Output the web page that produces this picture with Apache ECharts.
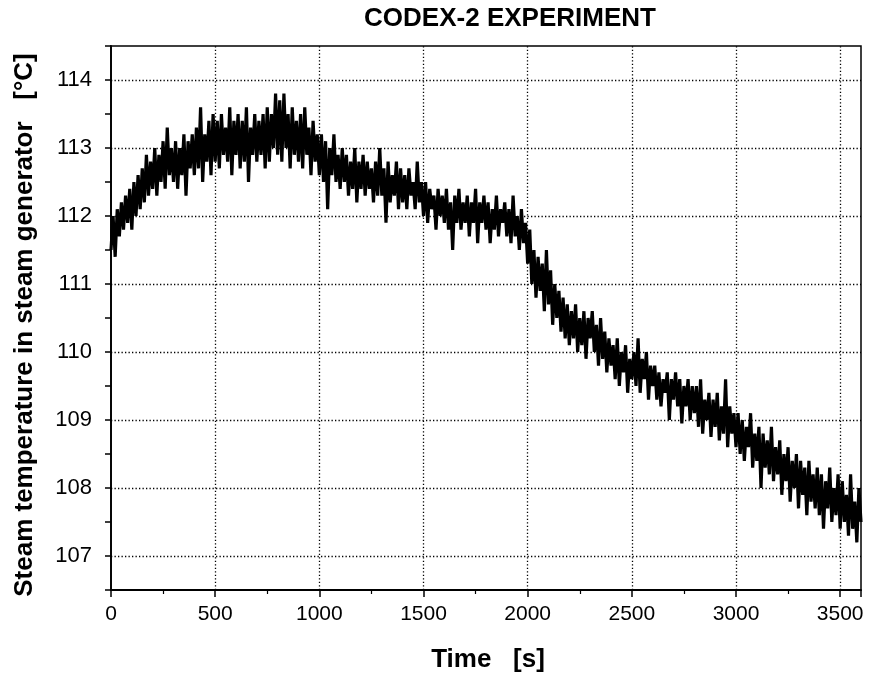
<!DOCTYPE html>
<html><head><meta charset="utf-8">
<script src="https://cdn.jsdelivr.net/npm/echarts@6/dist/echarts.min.js"></script>
<style>html,body{margin:0;padding:0;background:#fff}#c{width:870px;height:681px}</style>
</head><body><div id="c"></div>
<script>
const titleText = 'CODEX-2 EXPERIMENT';
const xName = 'Time   [s]';
const yName = 'Steam temperature in steam generator   [°C]';
const xTicks = [0, 500, 1000, 1500, 2000, 2500, 3000, 3500];
const yTicks = [107, 108, 109, 110, 111, 112, 113, 114];
const xRange = [0, 3600];
const yRange = [106.5, 114.5];
const sampleStep = 10; // seconds between samples
const temps = [
111.5,112.0,111.4,112.1,111.7,112.2,111.8,112.3,111.9,112.4,
111.8,112.5,112.0,112.6,112.1,112.7,112.2,112.9,112.3,112.8,
112.4,113.0,112.3,112.9,112.5,113.1,112.4,113.3,112.6,113.0,
112.5,113.1,112.4,113.0,112.6,113.2,112.3,113.1,112.7,113.2,
112.6,113.3,112.7,113.6,112.5,113.2,112.8,113.4,112.6,113.5,
112.8,113.4,112.7,113.5,112.9,113.3,112.8,113.6,112.6,113.4,
112.9,113.5,112.7,113.4,112.8,113.6,112.5,113.3,112.9,113.5,
112.8,113.4,112.9,113.5,112.7,113.6,112.8,113.5,113.0,113.8,
112.9,113.7,112.8,113.8,113.0,113.5,112.7,113.6,112.9,113.4,
112.8,113.5,112.7,113.6,112.9,113.3,112.6,113.4,112.8,113.2,
112.6,113.2,112.5,113.1,112.1,113.0,112.6,113.2,112.5,112.9,
112.4,113.0,112.5,112.9,112.3,112.8,112.4,113.0,112.2,112.8,
112.4,112.9,112.3,112.8,112.4,112.7,112.2,112.8,112.3,113.0,
112.3,112.7,111.9,112.8,112.2,112.6,112.3,112.8,112.1,112.7,
112.2,112.6,112.1,112.7,112.3,112.5,112.1,112.8,112.2,112.5,
112.0,112.5,111.9,112.4,112.1,112.3,111.8,112.4,112.0,112.3,
111.9,112.4,111.8,112.2,111.5,112.3,111.9,112.4,111.8,112.2,
111.9,112.3,111.7,112.2,111.9,112.4,111.6,112.2,111.9,112.3,
111.8,112.2,111.6,112.1,111.8,112.3,111.7,112.1,111.9,112.2,
111.7,112.1,111.6,112.3,111.7,112.0,111.5,112.1,111.6,111.9,
111.3,111.8,111.0,111.5,110.8,111.4,110.9,111.3,110.6,111.5,
110.7,111.2,110.4,111.0,110.5,110.9,110.3,110.8,110.2,110.7,
110.1,110.6,110.2,110.7,110.0,110.5,110.1,110.6,109.9,110.5,
110.2,110.6,110.0,110.4,109.8,110.5,109.9,110.3,109.7,110.2,
109.8,110.1,109.6,110.2,109.5,110.0,109.7,110.1,109.4,109.9,
109.6,110.0,109.5,110.2,109.4,109.9,109.6,110.0,109.3,109.8,
109.5,109.8,109.3,109.7,109.2,109.6,109.4,109.7,109.0,109.6,
109.3,109.7,109.2,109.6,108.95,109.5,109.2,109.6,109.0,109.5,
109.1,109.5,108.9,109.6,108.8,109.3,109.0,109.4,108.75,109.3,
108.9,109.4,108.7,109.2,108.8,109.6,108.6,109.2,108.8,109.1,
108.6,109.1,108.5,109.0,108.4,108.9,108.6,109.1,108.3,108.8,
108.4,108.9,108.0,108.8,108.3,108.7,108.2,108.9,108.1,108.6,
108.2,108.7,107.9,108.5,108.1,108.6,107.8,108.4,108.0,108.5,
107.7,108.4,107.9,108.3,107.6,108.4,107.8,108.2,107.7,108.3,
107.6,108.2,107.4,108.1,107.7,108.3,107.5,108.0,107.6,108.2,
107.4,108.1,107.5,107.9,107.3,108.2,107.4,107.8,107.2,108.0,
107.5
];

const FONT = "'Liberation Sans', Arial, Helvetica, sans-serif";
const seriesData = temps.map((v, i) => [i * sampleStep, v]);
const isTick = (arr, v) => arr.some(t => Math.abs(t - v) < 1e-6);

const chart = echarts.init(document.getElementById('c'), null, {renderer: 'canvas'});
chart.setOption({
  animation: false,
  backgroundColor: '#fff',
  grid: {left: 111, top: 46, width: 750, height: 544, show: true, borderColor: '#000', borderWidth: 1.5, backgroundColor: 'transparent'},
  xAxis: {
    type: 'value', min: xRange[0], max: xRange[1], interval: 500,
    axisLine: {show: true, lineStyle: {color: '#000', width: 1.8}},
    axisTick: {show: true, inside: false, length: 7, lineStyle: {color: '#000', width: 1.5}},
    minorTick: {show: true, splitNumber: 2, length: 4, lineStyle: {color: '#000', width: 1.2}},
    splitLine: {show: false},
    axisLabel: {color: '#000', fontSize: 21, fontFamily: FONT, margin: 14,
      formatter: v => isTick(xTicks, v) ? String(v) : ''}
  },
  yAxis: {
    type: 'value', min: yRange[0], max: yRange[1], interval: 0.5,
    axisLine: {show: true, lineStyle: {color: '#000', width: 1.8}},
    axisTick: {show: true, inside: false, length: 6, lineStyle: {color: '#000', width: 1.5}},
    splitLine: {show: false},
    axisLabel: {color: '#000', fontSize: 22, fontFamily: FONT, margin: 19,
      formatter: v => isTick(yTicks, v) ? String(Math.round(v)) : ''}
  },
  series: [{
    type: 'line', data: seriesData, showSymbol: false, symbol: 'none', sampling: false,
    lineStyle: {color: '#000', width: 3.2, join: 'miter', miterLimit: 2}, z: 3,
    markLine: {
      silent: true, symbol: ['none', 'none'], label: {show: false},
      lineStyle: {color: '#000', width: 1.3, type: [1.3, 2.2]},
      z: 2,
      data: yTicks.map(v => ({yAxis: v})).concat(xTicks.filter(v => v > xRange[0]).map(v => ({xAxis: v})))
    }
  }],
  graphic: [
    {type: 'text', x: 510, y: 19, style: {text: titleText, font: 'bold 26px ' + FONT, fill: '#000', textAlign: 'center', textVerticalAlign: 'middle'}},
    {type: 'text', x: 488, y: 660, style: {text: xName, font: 'bold 26px ' + FONT, fill: '#000', textAlign: 'center', textVerticalAlign: 'middle'}},
    {type: 'text', x: 25, y: 325, rotation: Math.PI / 2, style: {text: yName, font: 'bold 26px ' + FONT, fill: '#000', textAlign: 'center', textVerticalAlign: 'middle'}}
  ]
});
</script>
</body></html>
